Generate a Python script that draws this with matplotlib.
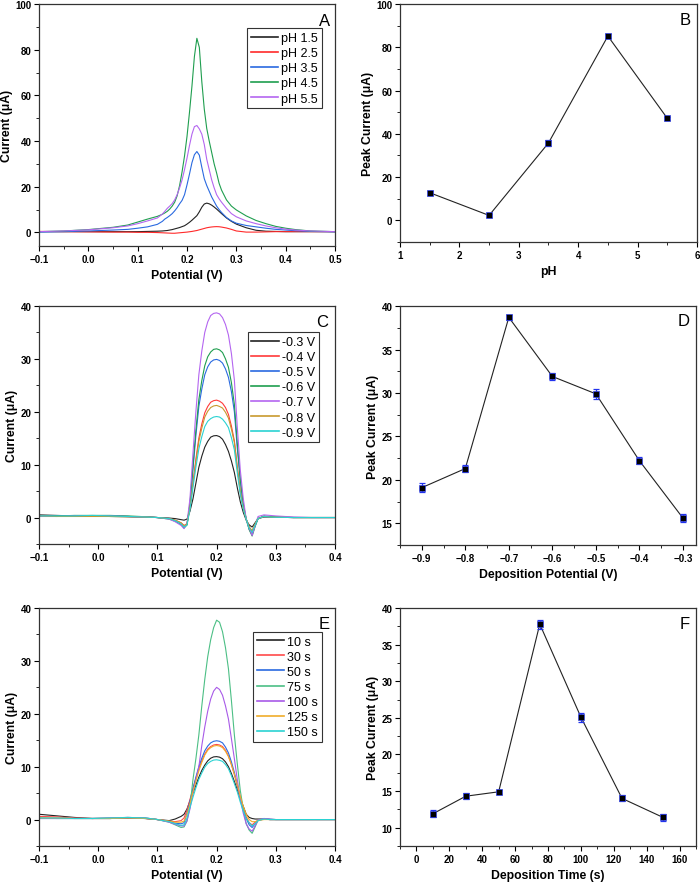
"""Six-panel voltammetry figure: DPV curves (A, C, E) and peak-current trends (B, D, F)."""

import matplotlib

matplotlib.use("Agg")
import matplotlib.pyplot as plt
from matplotlib.ticker import MultipleLocator

plt.rcParams["font.family"] = ["Liberation Sans", "DejaVu Sans"]

# ---- Panel A: DPV curves at different pH --------------------------------
A_POTENTIAL = [-0.10, -0.05, 0.00, 0.05, 0.08, 0.10, 0.12, 0.14, 0.15,
               0.155, 0.16, 0.165, 0.17, 0.175, 0.18, 0.185, 0.19, 0.195, 0.20,
               0.205, 0.21, 0.215, 0.22, 0.225, 0.23, 0.235, 0.24, 0.245, 0.25,
               0.255, 0.26, 0.265, 0.27,
               0.28, 0.29, 0.30, 0.32, 0.34, 0.36, 0.38, 0.40, 0.42, 0.45, 0.50]
A_LABELS = ["pH 1.5", "pH 2.5", "pH 3.5", "pH 4.5", "pH 5.5"]
A_PH15 = [0.3, 0.3, 0.3, 0.3, 0.3, 0.3, 0.4, 0.5, 0.6,
          0.7, 0.8, 1.0, 1.2, 1.5, 1.8, 2.1, 2.5, 2.9, 3.6,
          4.4, 5.3, 6.3, 7.3, 9.0, 11.0, 12.4, 12.8, 12.5, 11.9,
          11.1, 10.2, 9.2, 8.2,
          6.3, 4.8, 3.6, 2.0, 0.9, 0.5, 0.4, 0.3, 0.3, 0.3, 0.3]
A_PH25 = [0.4, 0.3, 0.2, 0.1, 0.1, 0.0, 0.0, -0.1, -0.2,
          -0.25, -0.3, -0.35, -0.4, -0.4, -0.3, -0.2, -0.1, 0.0, 0.1,
          0.25, 0.4, 0.6, 0.8, 1.1, 1.4, 1.7, 2.0, 2.2, 2.35,
          2.45, 2.5, 2.45, 2.3,
          1.9, 1.3, 0.6, 0.1, 0.1, 0.2, 0.3, 0.3, 0.3, 0.3, 0.3]
A_PH35 = [0.1, 0.3, 0.6, 1.0, 1.3, 1.8, 2.4, 3.5, 4.8,
          5.8, 6.5, 7.3, 8.2, 9.4, 10.8, 12.5, 14.0, 16.5, 20.8,
          25.5, 30.5, 34.0, 35.4, 33.8, 28.5, 23.5, 20.5, 18.0, 15.5,
          13.5, 11.5, 10.0, 8.7,
          6.5, 5.0, 4.0, 3.0, 2.4, 1.8, 1.3, 1.0, 0.7, 0.4, 0.2]
A_PH45 = [0.3, 0.6, 1.2, 2.2, 3.2, 4.5, 5.8, 7.0, 7.9,
          8.5, 9.2, 10.2, 11.5, 13.2, 16.0, 20.5, 26.5, 33.5, 42.0,
          52.5, 64.0, 77.0, 85.0, 81.0, 66.0, 54.0, 45.5, 40.0, 35.0,
          30.0, 26.0, 21.5, 18.5,
          14.2, 11.5, 9.8, 7.2, 5.2, 3.8, 2.6, 1.8, 1.2, 0.6, 0.3]
A_PH55 = [0.3, 0.6, 1.1, 2.0, 2.8, 3.8, 5.0, 6.3, 8.0,
          9.2, 10.5, 11.5, 12.6, 14.2, 16.5, 19.5, 23.0, 27.5, 32.5,
          38.0, 43.0, 46.3, 46.8, 45.3, 43.0, 38.5, 32.0, 27.5, 23.0,
          19.5, 16.5, 14.7, 13.2,
          10.5, 8.2, 6.8, 5.0, 3.8, 2.8, 2.0, 1.4, 1.0, 0.6, 0.3]

# ---- Panels C and E share one potential grid -----------------------------
CE_POTENTIAL = [-0.10, -0.07, -0.04, -0.01, 0.02, 0.05, 0.08, 0.10, 0.12, 0.13, 0.14,
                0.145, 0.15, 0.155, 0.16, 0.165, 0.17, 0.175, 0.18, 0.185, 0.19,
                0.195, 0.20, 0.205, 0.21, 0.215, 0.22, 0.225, 0.23, 0.235, 0.24,
                0.245, 0.25, 0.255, 0.26, 0.265, 0.27,
                0.28, 0.29, 0.30, 0.33, 0.36, 0.40]

# ---- Panel C: DPV curves at different deposition potentials --------------
C_LABELS = ["-0.3 V", "-0.4 V", "-0.5 V", "-0.6 V", "-0.7 V", "-0.8 V", "-0.9 V"]
C_M03 = [0.5, 0.4, 0.3, 0.3, 0.2, 0.15, 0.1, 0.0, -0.1, -0.2, -0.4,
         -0.5, -0.3, 1.2, 3.5, 6.5, 9.5, 11.6, 13.3, 14.4, 15.2,
         15.45, 15.5, 15.3, 14.8, 13.8, 12.5, 10.7, 8.5, 5.6, 3.0,
         1.0, -0.5, -1.4, -1.8, -1.0, -0.2,
         0.1, 0.1, 0.05, 0.0, 0.0, 0.0]
C_M04 = [0.3, 0.3, 0.3, 0.3, 0.25, 0.2, 0.1, 0.0, -0.2, -0.5, -1.0,
         -1.5, -1.2, 1.8, 6.5, 11.0, 15.0, 17.7, 19.8, 21.0, 21.8,
         22.1, 22.2, 22.0, 21.6, 20.8, 19.5, 17.3, 14.5, 9.5, 5.0,
         1.8, -0.3, -1.8, -2.6, -1.3, -0.2,
         0.2, 0.1, 0.05, 0.0, 0.0, 0.0]
C_M05 = [0.3, 0.3, 0.3, 0.3, 0.3, 0.2, 0.1, 0.0, -0.2, -0.6, -1.2,
         -1.8, -1.3, 2.5, 9.0, 15.5, 21.0, 24.3, 27.0, 28.5, 29.4,
         29.8, 29.9, 29.7, 29.2, 28.1, 26.5, 23.8, 20.0, 13.0, 7.0,
         2.5, -0.3, -2.2, -3.2, -1.6, -0.2,
         0.2, 0.1, 0.05, 0.0, 0.0, 0.0]
C_M06 = [0.2, 0.3, 0.4, 0.4, 0.4, 0.3, 0.15, 0.0, -0.3, -0.7, -1.3,
         -2.0, -1.4, 2.7, 9.7, 16.5, 22.3, 25.9, 28.7, 30.4, 31.3,
         31.8, 31.9, 31.7, 31.2, 30.0, 28.4, 25.5, 21.4, 14.0, 7.3,
         2.6, -0.3, -2.3, -3.5, -1.7, -0.2,
         0.3, 0.2, 0.1, 0.0, 0.0, 0.0]
C_M07 = [0.2, 0.2, 0.3, 0.3, 0.3, 0.2, 0.1, 0.0, -0.3, -0.8, -1.5,
         -2.1, -1.0, 3.6, 12.0, 20.0, 27.0, 31.5, 35.0, 37.0, 38.2,
         38.6, 38.7, 38.5, 37.8, 36.5, 34.5, 31.0, 26.0, 17.0, 9.0,
         3.6, -0.3, -2.0, -3.4, -1.5, 0.2,
         0.5, 0.4, 0.3, 0.1, 0.0, 0.0]
C_M08 = [0.3, 0.2, 0.2, 0.2, 0.2, 0.15, 0.1, 0.0, -0.2, -0.5, -1.0,
         -1.6, -1.2, 1.8, 6.3, 10.6, 14.4, 16.9, 19.0, 20.1, 20.8,
         21.1, 21.2, 21.0, 20.7, 19.9, 18.8, 16.7, 14.2, 9.3, 4.9,
         1.8, -0.3, -1.8, -2.5, -1.2, -0.2,
         0.2, 0.1, 0.05, 0.0, 0.0, 0.0]
C_M09 = [0.3, 0.3, 0.3, 0.4, 0.3, 0.2, 0.1, 0.0, -0.2, -0.6, -1.2,
         -1.8, -1.4, 1.5, 5.6, 9.5, 13.0, 15.3, 17.2, 18.2, 18.7,
         19.0, 19.1, 19.0, 18.6, 17.9, 17.0, 15.1, 12.8, 8.4, 4.4,
         1.6, -0.3, -2.0, -2.8, -1.4, -0.2,
         0.2, 0.1, 0.05, 0.0, 0.0, 0.0]

# ---- Panel E: DPV curves at different deposition times -------------------
E_LABELS = ["10 s", "30 s", "50 s", "75 s", "100 s", "125 s", "150 s"]
E_10 = [1.0, 0.7, 0.4, 0.2, 0.2, 0.3, 0.2, 0.0, -0.2, 0.1, 0.6,
        1.0, 2.0, 3.5, 5.0, 6.5, 8.0, 9.3, 10.3, 11.1, 11.6,
        11.85, 11.9, 11.8, 11.5, 10.9, 10.0, 8.7, 7.2, 5.6, 4.0,
        2.5, 1.0, 0.4, 0.2, 0.1, 0.1,
        0.1, 0.0, 0.0, 0.0, 0.0, 0.0]
E_30 = [0.6, 0.5, 0.3, 0.2, 0.2, 0.3, 0.2, 0.0, -0.3, -0.4, -0.2,
        0.3, 1.8, 3.8, 5.8, 7.8, 9.6, 11.1, 12.4, 13.3, 13.8,
        14.1, 14.2, 14.1, 13.8, 13.1, 12.0, 10.4, 8.5, 6.3, 4.0,
        2.0, 0.5, -0.6, -1.0, -0.5, -0.1,
        0.1, 0.0, 0.0, 0.0, 0.0, 0.0]
E_50 = [0.2, 0.2, 0.2, 0.2, 0.2, 0.3, 0.2, 0.0, -0.4, -0.7, -0.8,
        -0.6, 1.2, 3.5, 5.8, 8.0, 10.0, 11.6, 13.0, 13.9, 14.5,
        14.8, 14.9, 14.8, 14.5, 13.7, 12.6, 10.9, 8.9, 6.5, 4.0,
        1.8, 0.2, -1.0, -1.5, -0.8, -0.2,
        0.1, 0.0, 0.0, 0.0, 0.0, 0.0]
E_75 = [0.3, 0.2, 0.2, 0.2, 0.3, 0.4, 0.3, 0.0, -0.5, -1.0, -1.5,
        -1.4, -0.3, 2.5, 7.5, 11.5, 16.0, 21.5, 26.5, 30.8, 34.0,
        36.3, 37.7, 37.3, 35.5, 32.5, 28.5, 22.5, 16.0, 10.5, 5.5,
        2.0, -0.8, -2.0, -2.6, -1.4, -0.1,
        0.2, 0.1, 0.0, 0.0, 0.0, 0.0]
E_100 = [0.2, 0.2, 0.2, 0.2, 0.3, 0.4, 0.3, 0.0, -0.5, -0.9, -1.2,
         -1.2, -0.2, 2.0, 5.0, 7.5, 10.0, 14.0, 17.5, 20.5, 22.8,
         24.3, 25.0, 24.6, 23.5, 21.5, 19.0, 15.3, 11.5, 7.5, 4.0,
         1.2, -0.8, -1.8, -2.2, -1.2, -0.1,
         0.2, 0.1, 0.0, 0.0, 0.0, 0.0]
E_125 = [0.3, 0.3, 0.2, 0.2, 0.2, 0.3, 0.2, 0.0, -0.3, -0.5, -0.5,
         -0.3, 1.0, 3.0, 5.2, 7.3, 9.2, 10.8, 12.2, 13.1, 13.6,
         13.9, 14.0, 13.9, 13.6, 12.9, 11.9, 10.4, 8.6, 6.6, 4.4,
         2.5, 1.0, 0.0, -0.4, -0.4, -0.2,
         0.0, 0.0, 0.0, 0.0, 0.0, 0.0]
E_150 = [0.3, 0.3, 0.2, 0.2, 0.3, 0.4, 0.3, 0.0, -0.4, -0.8, -1.1,
         -1.0, 0.3, 2.3, 4.2, 6.0, 7.6, 8.8, 9.9, 10.6, 11.0,
         11.25, 11.3, 11.2, 11.0, 10.4, 9.6, 8.3, 6.8, 5.2, 3.3,
         1.6, 0.2, -0.6, -1.2, -0.8, -0.2,
         0.1, 0.0, 0.0, 0.0, 0.0, 0.0]

# ---- Panels B, D, F: peak currents with error bars -----------------------
B_PH = [1.5, 2.5, 3.5, 4.5, 5.5]
B_PEAK = [12.8, 2.3, 35.8, 85.2, 47.2]
B_ERR = [1.0, 0.8, 1.2, 1.0, 0.8]

D_POTENTIAL = [-0.9, -0.8, -0.7, -0.6, -0.5, -0.4, -0.3]
D_PEAK = [19.1, 21.3, 38.7, 31.9, 29.9, 22.2, 15.6]
D_ERR = [0.5, 0.4, 0.3, 0.4, 0.6, 0.4, 0.5]

F_TIME = [10, 30, 50, 75, 100, 125, 150]
F_PEAK = [11.9, 14.3, 14.9, 37.8, 25.1, 14.0, 11.4]
F_ERR = [0.5, 0.4, 0.3, 0.6, 0.6, 0.4, 0.5]

COLORS_5 = ["#222222", "#ff2a2a", "#2a6ae0", "#1f9e4f", "#b466f0"]
COLORS_C = ["#222222", "#ff3a3a", "#2a6ae0", "#1f9e4f", "#b466f0", "#c8992e", "#2ad2d2"]
COLORS_E = ["#222222", "#ff4a4a", "#2a6ae0", "#4cbf85", "#a85ae8", "#f0ad2a", "#2ad2d2"]

TICK_SIZE = 7
LABEL_SIZE = 8.8
LETTER_SIZE = 12
LINE_W = 0.8


def _style_axis(ax, xlim, ylim, xmaj, xmin, ymaj, ymin, xlabel, ylabel, letter,
                letter_xy):
    ax.set_xlim(*xlim)
    ax.set_ylim(*ylim)
    ax.xaxis.set_major_locator(MultipleLocator(xmaj))
    ax.xaxis.set_minor_locator(MultipleLocator(xmin))
    ax.yaxis.set_major_locator(MultipleLocator(ymaj))
    ax.yaxis.set_minor_locator(MultipleLocator(ymin))
    ax.tick_params(which="major", direction="out", length=3.5, width=0.8,
                   labelsize=TICK_SIZE, pad=2)
    ax.tick_params(which="minor", direction="out", length=2, width=0.6)
    for label in ax.get_xticklabels() + ax.get_yticklabels():
        label.set_fontweight("bold")
    for spine in ax.spines.values():
        spine.set_linewidth(0.9)
        spine.set_color("#333333")
    ax.set_xlabel(xlabel, fontsize=LABEL_SIZE, fontweight="bold", labelpad=4)
    ax.set_ylabel(ylabel, fontsize=LABEL_SIZE, fontweight="bold", labelpad=1.5)
    ax.text(letter_xy[0], letter_xy[1], letter, transform=ax.transAxes,
            fontsize=LETTER_SIZE, ha="center", va="center")


def _draw_curves(ax, potential, series, labels, colors, anchor):
    for values, label, color in zip(series, labels, colors):
        ax.plot(potential, values, color=color, linewidth=LINE_W, label=label)
    leg = ax.legend(loc="upper right", bbox_to_anchor=anchor, borderaxespad=0,
                    fontsize=9, frameon=True, fancybox=False, framealpha=1,
                    edgecolor="#333333", handlelength=2.2, handletextpad=0.25,
                    labelspacing=0.25, borderpad=0.3)
    leg.get_frame().set_linewidth(0.8)
    for line in leg.get_lines():
        line.set_linewidth(1.2)


def _draw_trend(ax, x, y, err):
    ax.plot(x, y, color="#222222", linewidth=0.8, zorder=2)
    ax.errorbar(x, y, yerr=err, fmt="none", ecolor="#2233ee", elinewidth=0.9,
                capsize=2, capthick=0.9, zorder=3)
    ax.plot(x, y, linestyle="none", marker="s", markersize=4.2,
            markerfacecolor="black", markeredgecolor="#3344ee",
            markeredgewidth=0.5, zorder=4)


figure = plt.figure(figsize=(7.0, 8.87), dpi=100)

ax_a = figure.add_axes([0.0557, 0.7215, 0.4229, 0.2728])
ax_b = figure.add_axes([0.5714, 0.7260, 0.4243, 0.2683])
ax_c = figure.add_axes([0.0557, 0.3856, 0.4229, 0.2683])
ax_d = figure.add_axes([0.5714, 0.3844, 0.4229, 0.2694])
ax_e = figure.add_axes([0.0557, 0.0451, 0.4229, 0.2683])
ax_f = figure.add_axes([0.5714, 0.0451, 0.4229, 0.2683])

_draw_curves(ax_a, A_POTENTIAL, [A_PH15, A_PH25, A_PH35, A_PH45, A_PH55],
             A_LABELS, COLORS_5, (0.956, 0.90))
_style_axis(ax_a, (-0.1, 0.5), (-6, 100), 0.1, 0.05, 20, 10,
            "Potential (V)", "Current (\u03bcA)", "A", (0.966, 0.934))

_draw_trend(ax_b, B_PH, B_PEAK, B_ERR)
_style_axis(ax_b, (1, 6), (-10, 100), 1, 0.5, 20, 10,
            "pH", "Peak Current (\u03bcA)", "B", (0.96, 0.937))

_draw_curves(ax_c, CE_POTENTIAL, [C_M03, C_M04, C_M05, C_M06, C_M07, C_M08, C_M09],
             C_LABELS, COLORS_C, (0.946, 0.89))
_style_axis(ax_c, (-0.1, 0.4), (-5, 40), 0.1, 0.05, 10, 5,
            "Potential (V)", "Current (\u03bcA)", "C", (0.957, 0.936))

_draw_trend(ax_d, D_POTENTIAL, D_PEAK, D_ERR)
_style_axis(ax_d, (-0.95, -0.27), (12.5, 40), 0.1, 0.05, 5, 2.5,
            "Deposition Potential (V)", "Peak Current (\u03bcA)", "D", (0.957, 0.938))

_draw_curves(ax_e, CE_POTENTIAL, [E_10, E_30, E_50, E_75, E_100, E_125, E_150],
             E_LABELS, COLORS_E, (0.956, 0.90))
_style_axis(ax_e, (-0.1, 0.4), (-5, 40), 0.1, 0.05, 10, 5,
            "Potential (V)", "Current (\u03bcA)", "E", (0.962, 0.936))

_draw_trend(ax_f, F_TIME, F_PEAK, F_ERR)
_style_axis(ax_f, (-10, 170), (7.5, 40), 20, 10, 5, 2.5,
            "Deposition Time (s)", "Peak Current (\u03bcA)", "F", (0.963, 0.936))

figure.savefig("out.png", dpi=100)
